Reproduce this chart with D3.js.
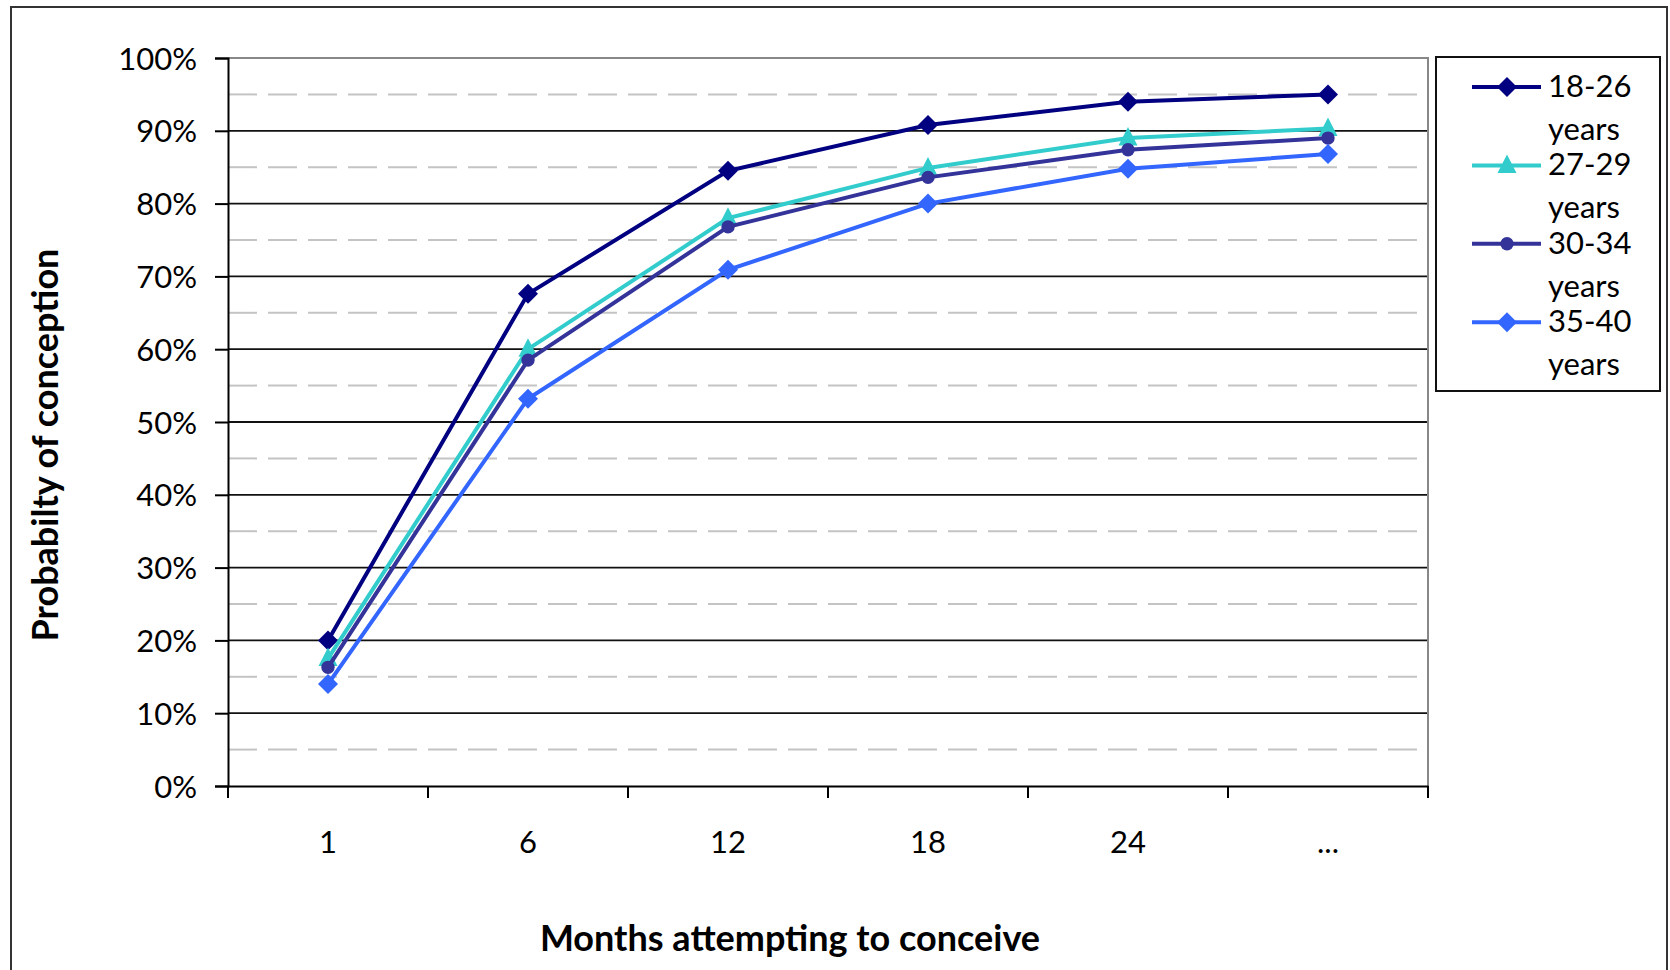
<!DOCTYPE html>
<html>
<head>
<meta charset="utf-8">
<script src="https://cdn.jsdelivr.net/npm/d3@7"></script>
<style>
  html, body { margin: 0; padding: 0; background: #fff; overflow: hidden; }
  svg { display: block; }
  text { font-family: Lato, "Open Sans", sans-serif; fill: #000; }
  .tick-label { font-size: 31px; }
</style>
</head>
<body>
<svg id="chart"></svg>
<script>
// months on the x axis
const months = ["1", "6", "12", "18", "24", "..."];
const yTicks = [0, 10, 20, 30, 40, 50, 60, 70, 80, 90, 100];
const minorTicks = [5, 15, 25, 35, 45, 55, 65, 75, 85, 95];

// probability of conception (%) per age group
const ageGroups = ["18-26", "27-29", "30-34", "35-40"];
const s18_26 = [20, 67.6, 84.5, 90.8, 94, 95];
const s27_29 = [17.5, 60, 78, 84.9, 89, 90.3];
const s30_34 = [16.3, 58.5, 76.8, 83.6, 87.4, 89];
const s35_40 = [14, 53.2, 70.9, 80, 84.8, 86.8];

const colors = ["#000080", "#33cccc", "#333399", "#3366ff"];
const shapes = ["diamond", "triangle", "circle", "diamond"];

const config = {
  width: 1670,
  height: 970,
  margin: { top: 58, right: 242, bottom: 184, left: 228 }
};

const svg = d3.select("#chart")
    .attr("width", config.width)
    .attr("height", config.height);

// outer chart frame (runs off the bottom like the original)
svg.append("rect")
    .attr("x", 11).attr("y", 7)
    .attr("width", 1656).attr("height", 1000)
    .attr("fill", "none")
    .attr("stroke", "#333")
    .attr("stroke-width", 2);

const innerWidth = config.width - config.margin.left - config.margin.right;
const innerHeight = config.height - config.margin.top - config.margin.bottom;

const chart = svg.append("g")
    .attr("transform", `translate(${config.margin.left},${config.margin.top})`);

const x = d3.scaleBand().domain(months).range([0, innerWidth]).padding(0);
const y = d3.scaleLinear().domain([0, 100]).range([innerHeight, 0]);
const cx = d => x(d) + x.bandwidth() / 2;

// minor dashed gridlines
chart.append("g").selectAll("line")
    .data(minorTicks)
    .join("line")
    .attr("x1", 0).attr("x2", innerWidth)
    .attr("y1", d => y(d)).attr("y2", d => y(d))
    .attr("stroke", "#c4c4c4")
    .attr("stroke-width", 2)
    .attr("stroke-dasharray", "29,11");

// major gridlines
chart.append("g").selectAll("line")
    .data(yTicks.filter(d => d > 0 && d < 100))
    .join("line")
    .attr("x1", 0).attr("x2", innerWidth)
    .attr("y1", d => y(d)).attr("y2", d => y(d))
    .attr("stroke", "#111")
    .attr("stroke-width", 1.8);

// plot area border (top and right, gray)
chart.append("path")
    .attr("d", `M0,0H${innerWidth}V${innerHeight}`)
    .attr("fill", "none")
    .attr("stroke", "#888")
    .attr("stroke-width", 2);

// y axis
const yAxis = chart.append("g")
    .call(d3.axisLeft(y).tickValues(yTicks).tickSize(13).tickPadding(18).tickFormat(d => d + "%"))
    .attr("font-size", null)
    .attr("font-family", null);
yAxis.select(".domain").attr("fill", "none").attr("stroke", "#000").attr("stroke-width", 2);
yAxis.selectAll("line").attr("stroke", "#000").attr("stroke-width", 2);
yAxis.selectAll("text")
    .attr("class", "tick-label")
    .attr("fill", "#000")
    .attr("text-anchor", "end")
    .attr("dy", null)
    .attr("y", 11);

// x axis: labels at band centres, ticks at band edges
const xAxis = chart.append("g")
    .attr("transform", `translate(0,${innerHeight})`)
    .call(d3.axisBottom(x).tickSize(0).tickPadding(45))
    .attr("font-size", null)
    .attr("font-family", null);
xAxis.select(".domain").attr("fill", "none").attr("stroke", "#000").attr("stroke-width", 2);
xAxis.selectAll("text")
    .attr("class", "tick-label")
    .attr("fill", "#000")
    .attr("text-anchor", "middle")
    .attr("dy", null)
    .attr("y", 67);

xAxis.append("g").selectAll("line")
    .data(months.map(d => x(d)).concat([innerWidth]))
    .join("line")
    .attr("x1", d => d).attr("x2", d => d)
    .attr("y1", 0).attr("y2", 12)
    .attr("stroke", "#000")
    .attr("stroke-width", 2);

// axis titles
svg.append("text")
    .attr("x", 790).attr("y", 951)
    .attr("text-anchor", "middle")
    .attr("font-size", 36)
    .attr("font-weight", "bold")
    .text("Months attempting to conceive");

svg.append("text")
    .attr("transform", "translate(58,445) rotate(-90)")
    .attr("text-anchor", "middle")
    .attr("font-size", 36)
    .attr("font-weight", "bold")
    .text("Probabilty of conception");

// marker shapes
function markerPath(shape) {
  if (shape === "diamond") return "M0,-10L10,0L0,10L-10,0Z";
  if (shape === "triangle") return "M0,-11L9.5,7.5L-9.5,7.5Z";
  return d3.symbol(d3.symbolCircle, 140)();
}

const seriesValues = [s18_26, s27_29, s30_34, s35_40];
const line = d3.line()
    .x((d, i) => cx(months[i]))
    .y(d => y(d));

seriesValues.forEach((vals, si) => {
  const g = chart.append("g");
  g.append("path")
      .datum(vals)
      .attr("d", line)
      .attr("fill", "none")
      .attr("stroke", colors[si])
      .attr("stroke-width", 4);
  g.selectAll("path.mark")
      .data(vals)
      .join("path")
      .attr("class", "mark")
      .attr("transform", (d, i) => `translate(${cx(months[i])},${y(d)})`)
      .attr("d", markerPath(shapes[si]))
      .attr("fill", colors[si]);
});

// legend
const legend = svg.append("g");
legend.append("rect")
    .attr("x", 1436).attr("y", 57)
    .attr("width", 224).attr("height", 334)
    .attr("fill", "#fff")
    .attr("stroke", "#111")
    .attr("stroke-width", 2);

const entry = legend.selectAll("g.entry")
    .data(ageGroups)
    .join("g")
    .attr("class", "entry")
    .attr("transform", (d, i) => `translate(0,${87 + i * 78.4})`);

entry.append("line")
    .attr("x1", 1472).attr("x2", 1541)
    .attr("y1", 0).attr("y2", 0)
    .attr("stroke", (d, i) => colors[i])
    .attr("stroke-width", 4);
entry.append("path")
    .attr("transform", "translate(1507,0)")
    .attr("d", (d, i) => markerPath(shapes[i]))
    .attr("fill", (d, i) => colors[i]);
entry.append("text")
    .attr("x", 1548).attr("y", 10)
    .attr("font-size", 31)
    .text(d => d);
entry.append("text")
    .attr("x", 1548).attr("y", 53)
    .attr("font-size", 31)
    .text("years");
</script>
</body>
</html>
